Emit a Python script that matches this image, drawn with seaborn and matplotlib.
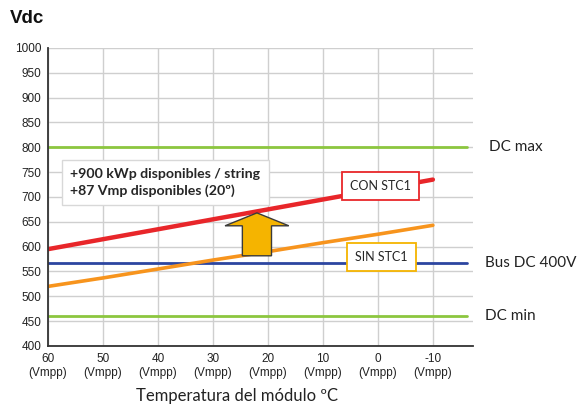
import numpy as np
import pandas as pd
import matplotlib.pyplot as plt
import seaborn as sns

# datos
temperaturas = [60, 50, 40, 30, 20, 10, 0, -10]
con_stc1 = [595, 615, 635, 655, 675, 695, 715, 735]
sin_stc1 = [520, 537, 555, 573, 590, 608, 625, 643]
etiquetas_x = [f"{t}\n(Vmpp)" for t in temperaturas]

dc_max = 800
bus_dc = 567
dc_min = 460
temp_flecha = 22

texto_caja = "+900 kWp disponibles / string\n+87 Vmp disponibles (20º)"

df = pd.DataFrame({
    "temp": temperaturas * 2,
    "vdc": con_stc1 + sin_stc1,
    "serie": ["CON STC1"] * len(temperaturas) + ["SIN STC1"] * len(temperaturas),
})

sns.set_style("white")
plt.rcParams["font.family"] = ["Liberation Sans", "DejaVu Sans"]

ROJO = "#e8262a"
NARANJA = "#f7941d"
AZUL = "#2c45a0"
VERDE = "#8cc63f"

fig = plt.figure(figsize=(5.8, 4.04), dpi=100)
ax = fig.add_axes([0.0828, 0.1436, 0.7327, 0.7376])

ax.set_xlim(60, -17.3)
ax.set_ylim(400, 1000)
ax.set_yticks(range(400, 1001, 50))
ax.set_xticks(temperaturas)
ax.set_xticklabels(etiquetas_x, fontsize=8.5, color="#222222", linespacing=1.2)
ax.tick_params(axis="y", labelsize=8.5, labelcolor="#222222", length=3, width=1, color="#333333", pad=2)
ax.tick_params(axis="x", length=3, width=1, color="#333333", pad=2)
ax.grid(True, color="#cfcfcf", lw=1)
ax.set_axisbelow(True)
for s in ["top", "right"]:
    ax.spines[s].set_visible(False)
for s in ["left", "bottom"]:
    ax.spines[s].set_color("#333333")
    ax.spines[s].set_linewidth(1.3)

ax.axhline(dc_max, color=VERDE, lw=2, xmax=0.985)
ax.axhline(dc_min, color=VERDE, lw=2, xmax=0.985)
ax.axhline(bus_dc, color=AZUL, lw=2, xmax=0.985)

sns.lineplot(data=df, x="temp", y="vdc", hue="serie",
             palette={"CON STC1": ROJO, "SIN STC1": NARANJA},
             linewidth=3, legend=False, ax=ax)
ax.lines[-2].set_linewidth(3.2)
ax.lines[-1].set_linewidth(2.6)
ax.set_xlabel("")
ax.set_ylabel("")

# flecha entre las dos curvas
base = np.interp(-temp_flecha, [-t for t in temperaturas], sin_stc1) - 5
punta = np.interp(-temp_flecha, [-t for t in temperaturas], con_stc1) - 3
ax.arrow(temp_flecha, base, 0, punta - base, width=5.3, head_width=11.6,
         head_length=26, length_includes_head=True, fc="#f5b400", ec="#3a3a3a", lw=1, zorder=5)

ax.text(56.0, 729, texto_caja, fontsize=10.2, fontweight="bold", family=["Lato", "DejaVu Sans"],
        va="center", ha="left", linespacing=1.35, zorder=6,
        bbox=dict(boxstyle="square,pad=0.6", fc="white", ec="#d8d8d8", lw=1))

ax.text(-0.5, 722, "CON STC1", fontsize=9, family=["Lato", "DejaVu Sans"], ha="center", va="center", zorder=6,
        bbox=dict(boxstyle="square,pad=0.65", fc="white", ec=ROJO, lw=1.3))
ax.text(-0.7, 579, "SIN STC1", fontsize=9, family=["Lato", "DejaVu Sans"], ha="center", va="center", zorder=6,
        bbox=dict(boxstyle="square,pad=0.65", fc="white", ec="#f5b400", lw=1.3))

tr = ax.get_yaxis_transform()
for y, lab, x in [(dc_max, "DC max", 1.037), (bus_dc, "Bus DC 400V", 1.028), (dc_min, "DC min", 1.028)]:
    ax.text(x, y, lab, transform=tr, fontsize=11, family=["Lato", "DejaVu Sans"],
            color="#222222", ha="left", va="center", clip_on=False)

fig.text(0.017, 0.955, "Vdc", fontsize=13.5, fontweight="bold", color="#111111", va="center", ha="left")
fig.text(0.408, 0.02, "Temperatura del módulo ºC", fontsize=12, family=["Lato", "DejaVu Sans"],
         color="#222222", ha="center", va="center")

fig.savefig("out.png", dpi=100)
